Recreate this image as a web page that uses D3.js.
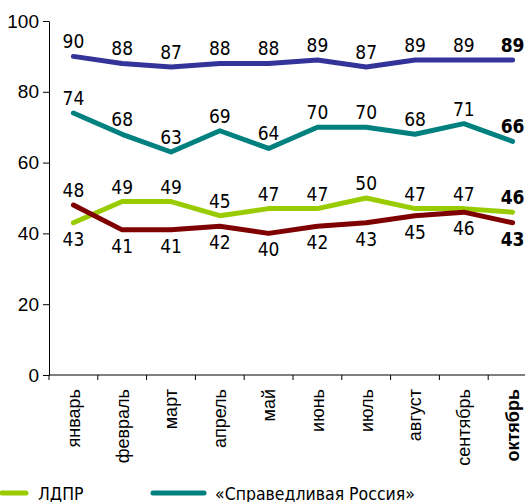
<!DOCTYPE html>
<html>
<head>
<meta charset="utf-8">
<script src="https://cdn.jsdelivr.net/npm/d3@7"></script>
<style>
  body { margin: 0; background: #fff; }
  svg { display: block; font-family: "Liberation Sans Narrow", "DejaVu Sans Condensed", sans-serif; }
  .axis path, .axis line { stroke: #000; stroke-width: 1; }
  .axis text { fill: #000; }
</style>
</head>
<body>
<script>
// months (last one is the current month, shown bold)
var months = ["январь", "февраль", "март", "апрель", "май",
              "июнь", "июль", "август", "сентябрь", "октябрь"];
var yTicks = [0, 20, 40, 60, 80, 100];

// series values
var erValues   = [90, 88, 87, 88, 88, 89, 87, 89, 89, 89];
var srValues   = [74, 68, 63, 69, 64, 70, 70, 68, 71, 66];
var ldprValues = [43, 49, 49, 45, 47, 47, 50, 47, 47, 46];
var kprfValues = [48, 41, 41, 42, 40, 42, 43, 45, 46, 43];

var series = [
  {name: "ЕР",   values: erValues,   color: "#333399", below: []},
  {name: "СР",   values: srValues,   color: "#00807f", below: []},
  {name: "ЛДПР", values: ldprValues, color: "#99cc00", below: [0]},
  {name: "КПРФ", values: kprfValues, color: "#7f0000", below: [1,2,3,4,5,6,7,8,9]}
];

var width = 525, height = 502;
var plotLeft = 49, plotTop = 21, plotBottom = 375, step = 48.8;

var x = d3.scaleBand().domain(months).range([plotLeft, plotLeft + step * months.length]).padding(0),
    y = d3.scaleLinear().domain([0, 100]).range([plotBottom, plotTop]);

var svg = d3.select("body").append("svg")
    .attr("width", width)
    .attr("height", height);

// y axis
svg.append("g")
    .attr("class", "axis")
    .attr("transform", "translate(" + plotLeft + ",0)")
    .call(d3.axisLeft(y).tickValues(yTicks).tickSize(6).tickSizeOuter(0).tickPadding(4))
    .selectAll("text")
    .style("font-size", "19px");

// x axis line + rotated month labels
var xg = svg.append("g")
    .attr("class", "axis")
    .attr("transform", "translate(0," + plotBottom + ")")
    .call(d3.axisBottom(x).tickSize(0).tickSizeOuter(0));

xg.select(".domain").attr("d", "M" + plotLeft + ",0H" + width);

xg.selectAll("text")
    .attr("transform", "rotate(-90)")
    .attr("x", -14)
    .attr("y", 0)
    .attr("dy", "0.35em")
    .attr("text-anchor", "end")
    .style("font-size", "18px")
    .style("font-weight", function(d, i) { return i == months.length - 1 ? "bold" : "normal"; });

// tick marks at band boundaries
xg.selectAll(".bound")
    .data(months)
    .enter().append("line")
    .attr("class", "bound")
    .attr("x1", function(d) { return x(d); })
    .attr("x2", function(d) { return x(d); })
    .attr("y1", 0)
    .attr("y2", 5);

var line = d3.line()
    .x(function(d, i) { return x(months[i]) + x.bandwidth() / 2; })
    .y(function(d) { return y(d); });

series.forEach(function(s) {
  svg.append("path")
      .datum(s.values)
      .attr("fill", "none")
      .attr("stroke", s.color)
      .attr("stroke-width", 5)
      .attr("stroke-linejoin", "round")
      .attr("stroke-linecap", "round")
      .attr("d", line);
});

series.forEach(function(s) {
  svg.append("g").selectAll("text")
      .data(s.values)
      .enter().append("text")
      .attr("x", function(d, i) { return x(months[i]) + x.bandwidth() / 2; })
      .attr("y", function(d, i) { return s.below.indexOf(i) >= 0 ? y(d) + 23 : y(d) - 8; })
      .attr("text-anchor", "middle")
      .style("font-size", "19px")
      .style("font-weight", function(d, i) { return i == months.length - 1 ? "bold" : "normal"; })
      .text(function(d) { return d; });
});

// legend (only the visible entries)
var legend = [
  {label: "ЛДПР", color: "#99cc00", x1: 2, x2: 26, tx: 38},
  {label: "«Справедливая Россия»", color: "#00807f", x1: 153, x2: 204, tx: 215}
];
legend.forEach(function(l) {
  svg.append("line")
      .attr("x1", l.x1).attr("x2", l.x2)
      .attr("y1", 493).attr("y2", 493)
      .attr("stroke", l.color)
      .attr("stroke-width", 5)
      .attr("stroke-linecap", "round");
  svg.append("text")
      .attr("x", l.tx)
      .attr("y", 500)
      .style("font-size", "17.5px")
      .text(l.label);
});
</script>
</body>
</html>
